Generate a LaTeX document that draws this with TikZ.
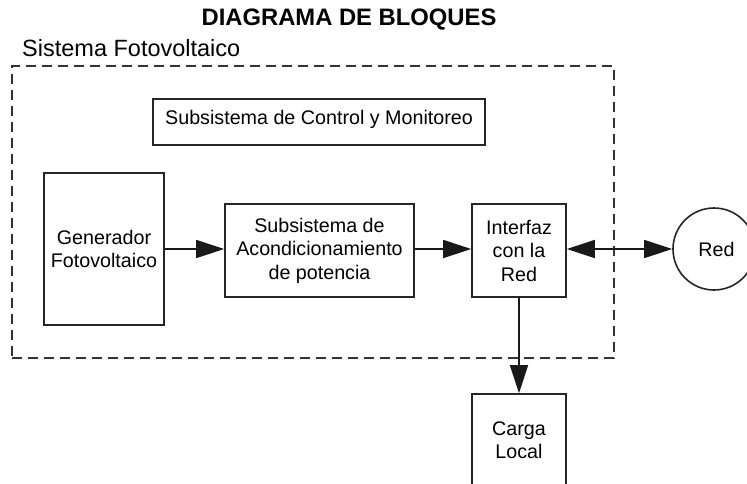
\documentclass[tikz,border=0pt]{standalone}
\usepackage{fontspec}
\setmainfont{Liberation Sans}
\usetikzlibrary{arrows.meta,calc}
\begin{document}
\begin{tikzpicture}[x=1pt,y=-1pt,
  every node/.style={font=\fontsize{19.7}{23.5}\selectfont, text=black},
  blk/.style={draw=black!85, line width=1.6pt, rectangle, inner sep=0pt, align=center},
  arr/.style={line width=1.6pt, draw=black!90, -{Triangle[length=28pt,width=18pt]}},
  darr/.style={line width=1.6pt, draw=black!90, {Triangle[length=28pt,width=18pt]}-{Triangle[length=28pt,width=18pt]}},
  frm/.style={draw=black!80, line width=1.8pt, dash pattern=on 10pt off 6pt, rectangle, inner sep=0pt}
]
\clip (0,0) rectangle (747,483);
\fill[white] (0,0) rectangle (747,483);

\node[font=\fontsize{23.8}{27}\selectfont\bfseries] (title) at (349,20) {DIAGRAMA DE BLOQUES};
\node[font=\fontsize{23.5}{27}\selectfont, anchor=west, inner sep=0pt] (sislabel) at (22,48) {Sistema Fotovoltaico};

\node[frm, minimum width=602pt, minimum height=292pt] (frame) at (313,212) {};

\node[blk, minimum width=332pt, text height=15pt, text depth=11pt, inner ysep=10pt] (ctrl) at (319,122) {Subsistema de Control y Monitoreo};

\node[blk, minimum width=120pt, minimum height=152pt] (gen) at (104,249) {Generador\\Fotovoltaico};
\node[blk, minimum width=189pt, minimum height=93pt] (acond) at (319.5,250.5) {Subsistema de\\Acondicionamiento\\de potencia};
\node[blk, minimum width=94pt, minimum height=93pt] (intf) at (519,250.5) {Interfaz\\con la\\Red};
\node[draw=black!85, line width=1.6pt, circle, minimum size=82pt, inner sep=0pt] (red) at (714,249) {\hspace{5pt}Red};
\node[blk, minimum width=94pt, minimum height=92pt] (carga) at (519,440) {Carga\\Local};

\draw[arr] (gen.east) -- (gen.east -| acond.west);
\draw[arr] (acond.east |- gen.east) -- (gen.east -| intf.west);
\draw[darr] (gen.east -| intf.east) -- (red.west);
\draw[arr] (intf.south) -- (carga.north);
\end{tikzpicture}
\end{document}
